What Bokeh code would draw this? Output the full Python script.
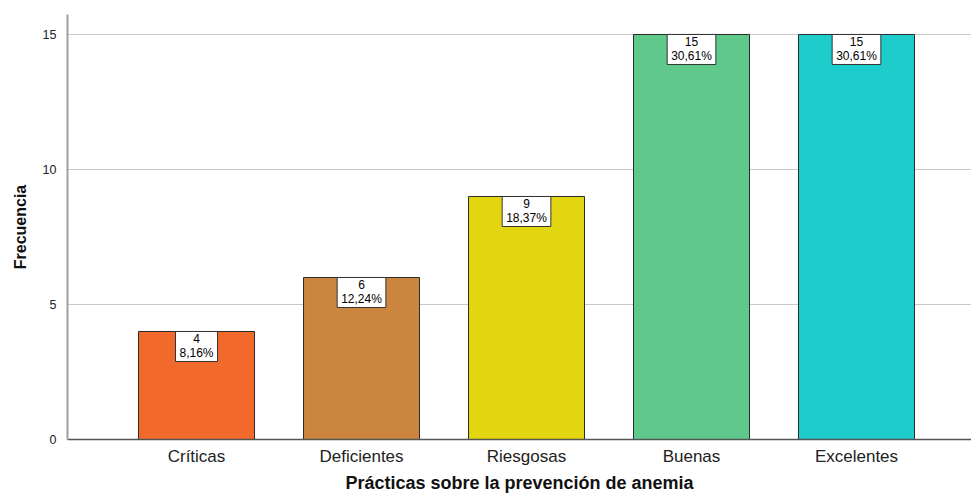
from bokeh.plotting import figure
from bokeh.models import Label, FixedTicker
from bokeh.embed import file_html
from bokeh.resources import INLINE

# Frequency of prevention practices
categories = ["Críticas", "Deficientes", "Riesgosas", "Buenas", "Excelentes"]
counts = [4, 6, 9, 15, 15]
percent_labels = ["8,16%", "12,24%", "18,37%", "30,61%", "30,61%"]
bar_colors = ["#F2692C", "#CC853F", "#E2D611", "#5EC98A", "#1ECCCC"]
y_ticks = [0, 5, 10, 15]

xs = list(range(1, len(categories) + 1))

p = figure(
    width=971, height=495,
    x_range=(0.218, 5.697), y_range=(0, 15.74),
    output_backend="svg", toolbar_location=None,
    min_border_left=67, min_border_right=0,
    min_border_top=14, min_border_bottom=56,
)
p.outline_line_color = None
p.background_fill_color = "white"
p.border_fill_color = "white"

p.vbar(x=xs, top=counts, width=0.703, fill_color=bar_colors,
       line_color="#2b2b2b", line_width=1)

# count / percentage boxes at the top of each bar
for x, c, pct in zip(xs, counts, percent_labels):
    p.add_layout(Label(
        x=x, y=c, text=f"{c}\n{pct}", text_align="center",
        text_baseline="top", y_offset=0,
        text_font="Liberation Sans", text_font_size="12px",
        text_color="#000000", text_line_height=1.0,
        background_fill_color="white", border_line_color="#333333",
        border_line_width=1,
        padding=dict(left=4, right=4, top=1, bottom=1),
    ))

# axes
p.xaxis.ticker = FixedTicker(ticks=xs)
p.xaxis.major_label_overrides = {x: c for x, c in zip(xs, categories)}
p.xaxis.major_label_text_font = "Liberation Sans"
p.xaxis.major_label_text_font_size = "17px"
p.xaxis.major_label_text_color = "#222222"
p.xaxis.major_label_standoff = 1
p.xaxis.axis_label = "Prácticas sobre la prevención de anemia"
p.xaxis.axis_label_text_font = "Liberation Sans"
p.xaxis.axis_label_text_font_style = "bold"
p.xaxis.axis_label_text_font_size = "18px"
p.xaxis.axis_label_text_color = "#111111"
p.xaxis.axis_label_standoff = 4
p.xaxis.axis_line_color = "#555555"
p.xaxis.axis_line_width = 1.5

p.yaxis.ticker = FixedTicker(ticks=y_ticks)
p.yaxis.major_label_text_font = "Liberation Sans"
p.yaxis.major_label_text_font_size = "12.5px"
p.yaxis.major_label_text_color = "#222222"
p.yaxis.major_label_standoff = 5
p.yaxis.axis_label = "Frecuencia"
p.yaxis.axis_label_text_font = "Liberation Sans"
p.yaxis.axis_label_text_font_style = "bold"
p.yaxis.axis_label_text_font_size = "16px"
p.yaxis.axis_label_text_color = "#111111"
p.yaxis.axis_label_standoff = 11
p.yaxis.axis_line_color = "#a0a0a0"
p.yaxis.axis_line_width = 2

for ax in (p.xaxis, p.yaxis):
    ax.major_tick_line_color = None
    ax.minor_tick_line_color = None

p.xgrid.grid_line_color = None
p.ygrid.grid_line_color = "#c8c8c8"
p.ygrid.grid_line_width = 1.2

open("out.html", "w").write(file_html(p, INLINE))
